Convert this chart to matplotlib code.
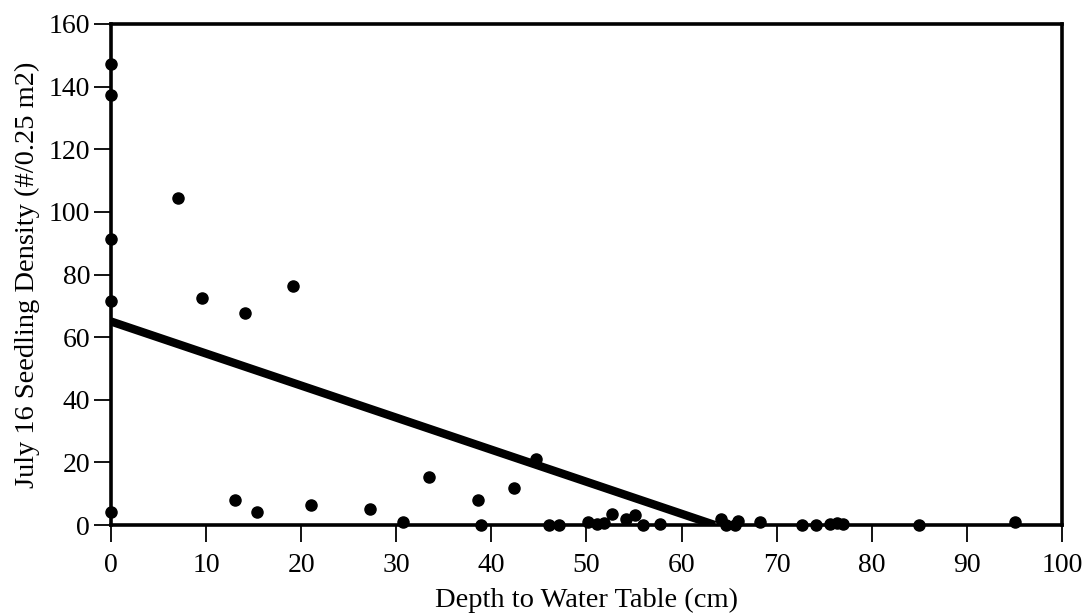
import matplotlib.pyplot as plt

plt.rcParams['font.family'] = ['Liberation Serif', 'DejaVu Serif']

# depth to water table (cm) and seedling density (#/0.25 m2)
depth = [0, 0, 0, 0, 0, 7.0, 9.6, 13.0, 14.1, 15.4, 19.1, 21.0, 27.2, 30.7,
         33.4, 38.6, 38.9, 42.4, 44.7, 46.1, 47.1, 50.2, 51.1, 51.8, 52.7,
         54.2, 55.1, 55.9, 57.7, 64.1, 64.7, 65.6, 65.9, 68.2, 72.7, 74.1,
         75.6, 76.3, 77.0, 85.0, 95.1]
density = [147.3, 137.4, 91.4, 71.6, 4.3, 104.5, 72.5, 8.0, 67.7, 4.2, 76.4,
           6.4, 5.0, 1.0, 15.4, 8.0, 0.0, 11.7, 21.0, 0.0, 0.0, 1.0, 0.3,
           0.7, 3.5, 1.8, 3.2, 0.0, 0.2, 1.8, 0.0, 0.0, 1.4, 1.0, 0.0, 0.0,
           0.3, 0.7, 0.3, 0.0, 1.0]

# fitted line
fit_x = [0, 63.5]
fit_y = [65.0, 0]

fig = plt.figure(figsize=(10.87, 6.15), dpi=100)
ax = fig.add_axes([0.1021, 0.1463, 0.8749, 0.8147])

ax.plot(fit_x, fit_y, color='black', linewidth=6, solid_capstyle='butt', zorder=3)
ax.scatter(depth, density, s=64, color='black', zorder=4, clip_on=False)

ax.set_xlim(0, 100)
ax.set_ylim(0, 160)
ax.set_xticks(range(0, 101, 10))
ax.set_yticks(range(0, 161, 20))
for s in ax.spines.values():
    s.set_linewidth(2.6)
ax.tick_params(direction='out', length=12, width=1.3, labelsize=20)
ax.tick_params(axis='x', pad=8)
ax.tick_params(axis='y', pad=3)
ax.set_xlabel('Depth to Water Table (cm)', fontsize=20.5, labelpad=7)
ax.set_ylabel('July 16 Seedling Density (#/0.25 m2)', fontsize=20.5, labelpad=6)

fig.savefig('out.png', dpi=100)
